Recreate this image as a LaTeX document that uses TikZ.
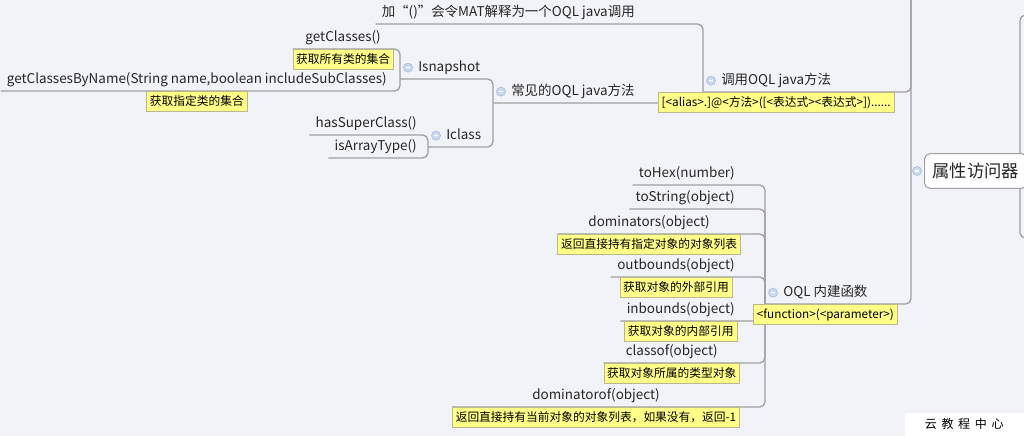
\documentclass[tikz,border=0pt]{standalone}
\usepackage{fontspec}
\setmainfont{Noto Sans CJK SC}
\usetikzlibrary{positioning, backgrounds}

\definecolor{canvas}{HTML}{F2F3F8}
\definecolor{linegray}{HTML}{A0A0A0}
\definecolor{inkgray}{HTML}{262626}
\definecolor{notefill}{HTML}{FFFF88}
\definecolor{noteedge}{HTML}{B9B98C}
\definecolor{foldfill}{HTML}{CADAF0}
\definecolor{foldedge}{HTML}{A7BEDD}
\definecolor{boxedge}{HTML}{A0A0A0}

\begin{document}
\begin{tikzpicture}[
    x=0.75pt, y=-0.75pt,
    font=\fontsize{10.1pt}{12pt}\selectfont,
    node distance=0pt,
    topic/.style={inner xsep=4.5pt, inner ysep=3.3pt, text height=0.75em, text depth=0.25em, text=inkgray},
    hub/.style={topic, inner xsep=13.5pt},
    note/.style={draw=noteedge, fill=notefill, inner xsep=2.5pt, inner ysep=2.3pt, text height=0.8em, text depth=0.25em, font=\fontsize{8.8pt}{10pt}\selectfont, text=black},
    branch/.style={draw=linegray, line width=1pt, rounded corners=4pt},
    fold/.style={circle, draw=foldedge, fill=foldfill, minimum size=6.75pt, inner sep=0pt, line width=0.5pt,
        path picture={\draw[white, line width=0.8pt] ([xshift=-1.8pt]path picture bounding box.center) -- ([xshift=1.8pt]path picture bounding box.center);}},
    rootbox/.style={draw=boxedge, fill=white, rounded corners=4pt, line width=0.8pt, inner xsep=6pt, inner ysep=3pt, minimum height=26pt, font=\fontsize{13pt}{15pt}\selectfont, text=inkgray}
]
\useasboundingbox (0,0) rectangle (1024,436);
\clip (0,0) rectangle (1024,436);

% root side
\node[rootbox, anchor=west] (attr) at (924,171) {属性访问器\hspace{14pt}};
\coordinate (rtop) at (911,0);
\coordinate (edgetop) at (1027,15);
\coordinate (edgebot) at (1027,238);

% hubs
\node[hub, anchor=south west] (call) at (703,92) {调用OQL java方法};
\node[hub, anchor=south west] (fn) at (765,304) {OQL 内建函数};
\node[hub, anchor=south west] (common) at (493,103) {常见的OQL java方法};
\node[hub, anchor=south west] (snap) at (400,79) {Isnapshot};
\node[hub, anchor=south west] (cls) at (428,147) {Iclass};

% leaves
\node[topic, anchor=south east] (mat) at (641,24) {加“()”会令MAT解释为一个OQL java调用};
\node[topic, anchor=south east] (getall) at (387,49) {getClasses()};
\node[topic, anchor=south east] (getbyname) at (393,91) {getClassesByName(String name,boolean includeSubClasses)};
\node[topic, anchor=south east] (hassuper) at (423,135) {hasSuperClass()};
\node[topic, anchor=south east] (isarray) at (423,158) {isArrayType()};
\node[topic, anchor=south east] (tohex) at (741,185) {toHex(number)};
\node[topic, anchor=south east] (tostr) at (741,209) {toString(object)};
\node[topic, anchor=south east] (doms) at (716,234) {dominators(object)};
\node[topic, anchor=south east] (outb) at (741,277) {outbounds(object)};
\node[topic, anchor=south east] (inb) at (741,321) {inbounds(object)};
\node[topic, anchor=south east] (clsof) at (724,363) {classof(object)};
\node[topic, anchor=south east] (domof) at (666,407) {dominatorof(object)};

% notes
\node[note, below=of call] (callnote) {[<alias>.]@<方法>([<表达式><表达式>])......};
\node[note, below=of fn] (fnnote) {<function>(<parameter>)};
\node[note, below=of getall] (getallnote) {获取所有类的集合};
\node[note, below=of getbyname] (getbynamenote) {获取指定类的集合};
\node[note, below=of doms] (domsnote) {返回直接持有指定对象的对象列表};
\node[note, below=of outb] (outbnote) {获取对象的外部引用};
\node[note, below=of inb] (inbnote) {获取对象的内部引用};
\node[note, below=of clsof] (clsofnote) {获取对象所属的类型对象};
\node[note, below=of domof] (domofnote) {返回直接持有当前对象的对象列表，如果没有，返回-1};

% fold marks
\node[fold] (attrfold) at ([xshift=-5.25pt]attr.west) {};
\node[fold] (callfold) at ([xshift=6pt]call.west) {};
\node[fold] (fnfold) at ([xshift=6pt]fn.west) {};
\node[fold] (commonfold) at ([xshift=6pt]common.west) {};
\node[fold] (snapfold) at ([xshift=6pt]snap.west) {};
\node[fold] (clsfold) at ([xshift=6pt]cls.west) {};

% watermark
\node[fill=white, inner sep=0pt, minimum width=89.25pt, minimum height=17.25pt, anchor=south east,
      font=\fontsize{9pt}{10pt}\selectfont] (mark) at (1024,436)
      {云\hspace{3.5pt}教\hspace{3.5pt}程\hspace{3.5pt}中\hspace{3.5pt}心};

\begin{scope}[on background layer]
\fill[canvas] (0,0) rectangle (1024,436);
% root bus
\draw[branch] (call.south west) -- (call.south -| rtop) -- (rtop);
\draw[branch] (fn.south west) -- (fn.south -| rtop) -- (rtop);
\draw[branch] (edgetop) -- ++(-7,0) |- (edgebot);
% OQL java calls
\draw[branch] (mat.south west) -- (mat.south -| call.south west) -- (call.south west);
\draw[branch] (common.south west) -- (common.south -| call.south west) -- (call.south west);
\draw[branch] (snap.south west) -- (snap.south -| common.south west) -- (common.south west);
\draw[branch] (cls.south west) -- (cls.south -| common.south west) -- (common.south west);
\draw[branch] (getallnote.north west) -- (getall.south -| snap.south west) -- (snap.south west);
\draw[branch] (getbyname.south west) -- (getbyname.south -| snap.south west) -- (snap.south west);
\draw[branch] (hassuper.south west) -- (hassuper.south -| cls.south west) -- (cls.south west);
\draw[branch] (isarray.south west) -- (isarray.south -| cls.south west) -- (cls.south west);
% built-in functions
\draw[branch] (tohex.south west) -- (tohex.south -| fn.south west) -- (fn.south west);
\draw[branch] (tostr.south west) -- (tostr.south -| fn.south west) -- (fn.south west);
\draw[branch] (domsnote.north west) -- (doms.south -| fn.south west) -- (fn.south west);
\draw[branch] (outb.south west) -- (outb.south -| fn.south west) -- (fn.south west);
\draw[branch] (inb.south west) -- (inb.south -| fn.south west) -- (fn.south west);
\draw[branch] (clsofnote.north west) -- (clsof.south -| fn.south west) -- (fn.south west);
\draw[branch] (domofnote.north west) -- (domof.south -| fn.south west) -- (fn.south west);
\end{scope}
\end{tikzpicture}
\end{document}
